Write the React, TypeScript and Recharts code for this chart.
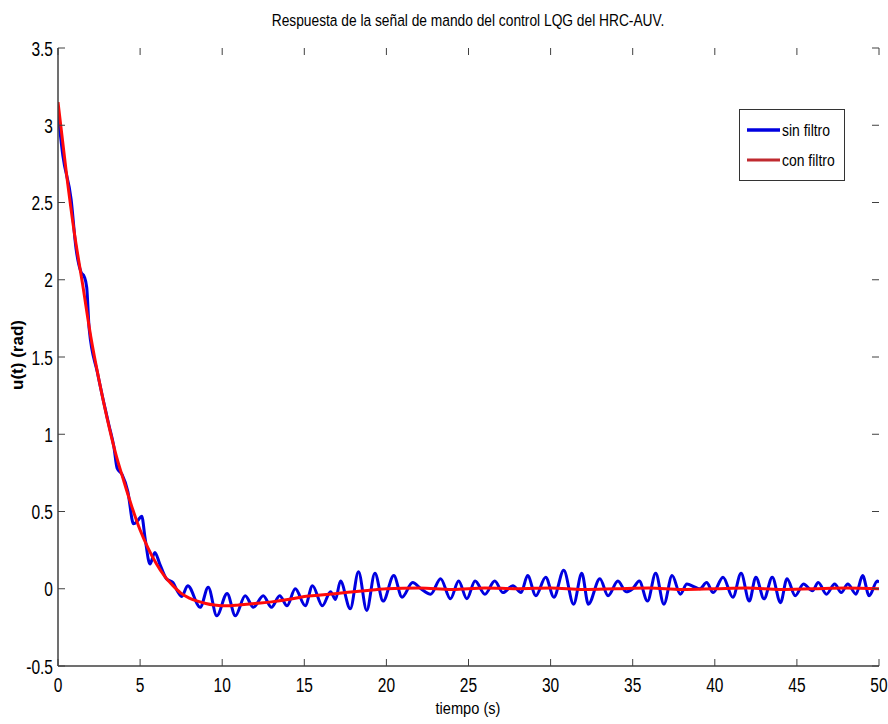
import { LineChart, Line, XAxis, YAxis } from "recharts";

// ── Respuesta de la señal de mando (LQG, HRC-AUV) ──
const TITLE = "Respuesta de la señal de mando del control LQG del HRC-AUV.";
const X_LABEL = "tiempo (s)";
const Y_LABEL = "u(t) (rad)";
const SERIES_NAMES = ["sin filtro", "con filtro"];

const X_TICKS = [0, 5, 10, 15, 20, 25, 30, 35, 40, 45, 50];
const Y_TICKS = [-0.5, 0, 0.5, 1, 1.5, 2, 2.5, 3, 3.5];

// sin filtro (azul)
const BLUE_T = [
  0, 0.3, 0.8, 1.1, 1.4, 1.6, 1.75, 1.9, 2.4, 2.8, 3.1, 3.4, 3.6, 3.9, 4.25, 4.6, 4.85, 5.1, 5.3, 5.6,
  5.9, 6.2, 6.6, 7.0, 7.3, 7.54, 7.9, 8.66, 9.15, 9.67, 10.3, 10.8, 11.4, 11.9, 12.5, 13.0, 13.5, 13.95,
  14.45, 15.06, 15.5, 16.1, 16.6, 16.9, 17.2, 17.8, 18.3, 18.8, 19.3, 19.8, 20.45, 20.95, 21.6, 22.1,
  22.7, 23.3, 23.9, 24.4, 24.9, 25.4, 26.0, 26.6, 27.1, 27.7, 28.2, 28.6, 29.1, 29.7, 30.2, 30.8, 31.4,
  31.9, 32.3, 33.0, 33.5, 34.1, 34.6, 35.0, 35.4, 35.9, 36.4, 36.9, 37.4, 37.9, 38.3, 38.8, 39.1, 39.5,
  39.9, 40.5, 41.1, 41.6, 42.1, 42.5, 43.0, 43.5, 44.0, 44.4, 44.9, 45.4, 45.95, 46.3, 46.8, 47.3, 47.7,
  48.1, 48.6, 49.0, 49.4, 49.9, 50,
];
const BLUE_U = [
  3.08, 2.8, 2.52, 2.2, 2.05, 2.02, 1.95, 1.68, 1.4, 1.2, 1.06, 0.92, 0.78, 0.74, 0.63, 0.42, 0.44, 0.47, 0.33, 0.16,
  0.235, 0.16, 0.065, 0.04, -0.02, -0.05, 0.02, -0.12, 0.01, -0.175, -0.03, -0.175, -0.045, -0.12, -0.045, -0.12, -0.045, -0.11,
  0.0, -0.11, 0.02, -0.11, -0.02, -0.07, 0.05, -0.13, 0.11, -0.14, 0.1, -0.08, 0.085, -0.055, 0.04, 0.0,
  -0.035, 0.065, -0.065, 0.05, -0.065, 0.05, -0.035, 0.05, -0.025, 0.02, -0.025, 0.085, -0.045, 0.075, -0.055, 0.12, -0.1,
  0.1, -0.1, 0.065, -0.045, 0.05, -0.02, 0.0, 0.05, -0.08, 0.1, -0.1, 0.085, -0.035, 0.03, 0.01, 0.0, 0.04,
  -0.025, 0.075, -0.055, 0.1, -0.08, 0.075, -0.065, 0.075, -0.09, 0.065, -0.045, 0.03, -0.013, 0.04, -0.035, 0.03, -0.025,
  0.03, -0.035, 0.085, -0.045, 0.05, 0.04,
];

// con filtro (rojo)
const RED_T = [
  0, 0.5, 1, 1.5, 2, 2.5, 3, 3.5, 4, 4.5, 5, 5.5, 6, 6.5, 7, 7.5, 8, 8.5, 9, 9.5, 10, 10.5, 11, 12, 13,
  14, 15, 16, 17, 18, 19, 20, 22, 24, 26, 28, 30, 32, 34, 36, 38, 40, 42, 44, 46, 48, 50,
];
const RED_U = [
  3.15, 2.7, 2.3, 1.97, 1.63, 1.35, 1.1, 0.88, 0.7, 0.53, 0.38, 0.26, 0.16, 0.08, 0.02, -0.03, -0.06, -0.08, -0.095, -0.105, -0.11, -0.11, -0.105, -0.095, -0.085,
  -0.07, -0.05, -0.04, -0.03, -0.02, -0.01, 0.0, 0.005, -0.005, 0.005, 0.0, 0.005, -0.005, 0.0, 0.005, -0.005, 0.0, 0.005, -0.005, 0.0, 0.005, 0.0,
];

const blueData = BLUE_T.map((t, i) => ({ t, u: BLUE_U[i] }));
const redData = RED_T.map((t, i) => ({ t, u: RED_U[i] }));

const W = 888;
const H = 724;
const PLOT_TOP = 48;
const PLOT_BOTTOM = 666;
const PLOT_LEFT = 58;
const PLOT_RIGHT = 879;
const TICK_LEN = 7;
const FONT = "'Liberation Sans', Arial, sans-serif";
const AXIS = "#404040";
const BLUE = "#0000e0";
const RED = "#ff0a0a";

// texto "estrecho" (Arial Narrow no está instalada): escala horizontal
function NarrowText({ x, y, size, sx, anchor = "start", children, bold = false }: any) {
  return (
    <text
      transform={`translate(${x},${y}) scale(${sx},1)`}
      textAnchor={anchor}
      fontSize={size}
      fontFamily={FONT}
      fontWeight={bold ? "bold" : "normal"}
      fill="#000"
    >
      {children}
    </text>
  );
}

function XTick({ x, payload }: any) {
  return (
    <g>
      <line x1={x} x2={x} y1={PLOT_BOTTOM} y2={PLOT_BOTTOM - TICK_LEN} stroke={AXIS} />
      <line x1={x} x2={x} y1={PLOT_TOP} y2={PLOT_TOP + TICK_LEN} stroke={AXIS} />
      <NarrowText x={x} y={692} size={21} sx={0.74} anchor="middle">
        {payload.value}
      </NarrowText>
    </g>
  );
}

function YTick({ y, payload }: any) {
  return (
    <g>
      <line x1={PLOT_LEFT} x2={PLOT_LEFT + TICK_LEN} y1={y} y2={y} stroke={AXIS} />
      <line x1={PLOT_RIGHT} x2={PLOT_RIGHT - TICK_LEN} y1={y} y2={y} stroke={AXIS} />
      <NarrowText x={53} y={y + 7.5} size={21} sx={0.74} anchor="end">
        {payload.value}
      </NarrowText>
    </g>
  );
}

export default function App() {
  return (
    <div style={{ position: "absolute", left: 0, top: 0, width: W, height: H, background: "#fff" }}>
      <LineChart
        width={W}
        height={H}
        margin={{ top: PLOT_TOP, right: W - PLOT_RIGHT, bottom: 0, left: 0 }}
      >
        {/* título y rótulos */}
        <NarrowText x={468} y={26} size={17} sx={0.81} anchor="middle">
          {TITLE}
        </NarrowText>
        <NarrowText x={468} y={714} size={17} sx={0.86} anchor="middle">
          {X_LABEL}
        </NarrowText>
        <text
          x={23}
          y={355}
          transform="rotate(-90 23 355)"
          textAnchor="middle"
          fontSize={17}
          fontWeight="bold"
          fontFamily={FONT}
          fill="#000"
        >
          {Y_LABEL}
        </text>

        <XAxis
          xAxisId="b"
          dataKey="t"
          type="number"
          domain={[0, 50]}
          ticks={X_TICKS}
          height={H - PLOT_BOTTOM}
          tickLine={false}
          axisLine={{ stroke: AXIS, strokeWidth: 1.5 }}
          tick={<XTick />}
          interval={0}
          allowDataOverflow
        />
        <XAxis
          xAxisId="top"
          orientation="top"
          dataKey="t"
          type="number"
          domain={[0, 50]}
          height={0}
          tick={false}
          tickLine={false}
          axisLine={{ stroke: AXIS, strokeWidth: 1.5 }}
        />
        <YAxis
          yAxisId="l"
          type="number"
          domain={[-0.5, 3.5]}
          ticks={Y_TICKS}
          width={PLOT_LEFT}
          tickLine={false}
          axisLine={{ stroke: AXIS, strokeWidth: 1.5 }}
          tick={<YTick />}
          interval={0}
          allowDataOverflow
        />
        <YAxis
          yAxisId="r"
          orientation="right"
          type="number"
          domain={[-0.5, 3.5]}
          width={0}
          tick={false}
          tickLine={false}
          axisLine={{ stroke: AXIS, strokeWidth: 1.5 }}
        />

        <Line
          xAxisId="b"
          yAxisId="l"
          data={blueData}
          dataKey="u"
          name={SERIES_NAMES[0]}
          type="monotone"
          stroke={BLUE}
          strokeWidth={3}
          dot={false}
          isAnimationActive={false}
        />
        <Line
          xAxisId="b"
          yAxisId="l"
          data={redData}
          dataKey="u"
          name={SERIES_NAMES[1]}
          type="monotone"
          stroke={RED}
          strokeWidth={3}
          dot={false}
          isAnimationActive={false}
        />

        {/* leyenda */}
        <g>
          <rect x={739.5} y={109.5} width={105} height={71} fill="#fff" stroke="#333" strokeWidth={1} />
          <line x1={747} x2={780} y1={130} y2={130} stroke={BLUE} strokeWidth={3.5} />
          <line x1={747} x2={780} y1={160} y2={160} stroke="#c02a30" strokeWidth={3} />
          <NarrowText x={782} y={136} size={17} sx={0.82}>
            {SERIES_NAMES[0]}
          </NarrowText>
          <NarrowText x={782} y={166} size={17} sx={0.82}>
            {SERIES_NAMES[1]}
          </NarrowText>
        </g>
      </LineChart>
    </div>
  );
}
